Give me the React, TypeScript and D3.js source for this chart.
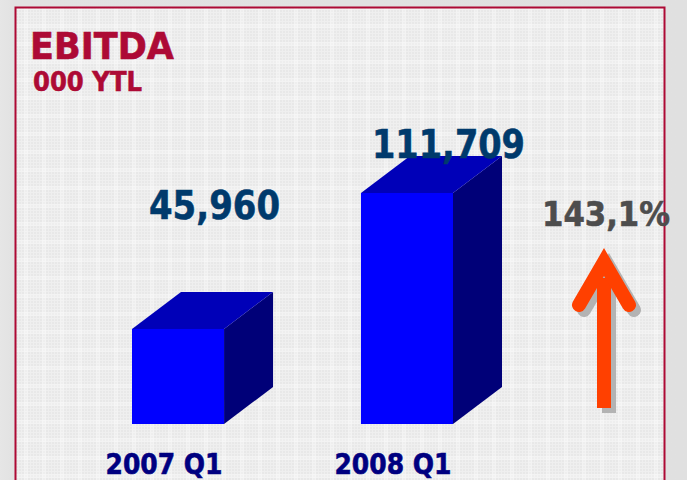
import React, { useEffect, useRef } from 'react';
import * as d3 from 'd3';

const categories = ['2007 Q1', '2008 Q1'];
const values = [45960, 111709];
const valueLabels = ['45,960', '111,709'];
const changeLabel = '143,1%';
const title = 'EBITDA';
const subtitle = '000 YTL';

const width = 687;
const height = 480;
const baseY = 424;
const depthX = 49;
const depthY = 37;
const font = 'Tahoma, "DejaVu Sans", Verdana, sans-serif';

export default function App() {
	const ref = useRef<SVGSVGElement | null>(null);

	useEffect(() => {
		const svg = d3.select(ref.current);
		svg.selectAll('*').remove();

		const defs = svg.append('defs');

		const bg = defs.append('linearGradient').attr('id', 'pageBg');
		bg.append('stop').attr('offset', '0').attr('stop-color', '#e6e6e6');
		bg.append('stop').attr('offset', '0.02').attr('stop-color', '#e2e2e2');
		bg.append('stop').attr('offset', '1').attr('stop-color', '#e0e0e0');

		// woven texture of the panel
		const weave = defs
			.append('pattern')
			.attr('id', 'weave')
			.attr('width', 18)
			.attr('height', 18)
			.attr('patternUnits', 'userSpaceOnUse');
		weave.append('rect').attr('width', 18).attr('height', 18).attr('fill', '#e8e8e8');
		d3.range(0, 18, 3).forEach(p => {
			weave.append('rect').attr('x', p).attr('width', 1).attr('height', 18).attr('fill', '#efefef');
			weave.append('rect').attr('y', p).attr('width', 18).attr('height', 1).attr('fill', '#efefef');
		});
		// wider pale bands
		weave.append('rect').attr('x', 6).attr('width', 4).attr('height', 18).attr('fill', '#fff').attr('opacity', 0.25);
		weave.append('rect').attr('y', 6).attr('width', 18).attr('height', 4).attr('fill', '#fff').attr('opacity', 0.25);

		svg.append('rect').attr('width', width).attr('height', height).attr('fill', 'url(#pageBg)');
		svg.append('rect')
			.attr('x', 15.5)
			.attr('y', 7.5)
			.attr('width', 649)
			.attr('height', 500)
			.attr('fill', 'url(#weave)')
			.attr('stroke', '#ad0a35')
			.attr('stroke-width', 2);

		const xScale = d3.scaleBand().domain(categories).range([132, 453]).paddingInner(0.598);
		const yScale = d3.scaleLinear().domain([0, 111709]).range([baseY, 193]);
		const bw = xScale.bandwidth();

		const bars = svg
			.selectAll('g.bar')
			.data(categories)
			.enter()
			.append('g')
			.attr('class', 'bar');

		const pts = (list: number[][]) => list.map(p => p.join(',')).join(' ');

		// right side
		bars.append('polygon')
			.attr('fill', '#000078')
			.attr('points', (d, i) => {
				const x = xScale(d)! + bw;
				const y = yScale(values[i]);
				return pts([
					[x, y],
					[x + depthX, y - depthY],
					[x + depthX, baseY - depthY],
					[x, baseY],
				]);
			});
		// top
		bars.append('polygon')
			.attr('fill', '#0000b8')
			.attr('points', (d, i) => {
				const x = xScale(d)!;
				const y = yScale(values[i]);
				return pts([
					[x, y],
					[x + depthX, y - depthY],
					[x + bw + depthX, y - depthY],
					[x + bw, y],
				]);
			});
		// front
		bars.append('rect')
			.attr('fill', '#0000ff')
			.attr('x', d => xScale(d)!)
			.attr('y', (d, i) => yScale(values[i]))
			.attr('width', bw)
			.attr('height', (d, i) => baseY - yScale(values[i]));

		const bold = (sel: any, color: string) =>
			sel
				.attr('font-family', font)
				.attr('font-weight', 700)
				.attr('fill', color)
				.attr('stroke', color)
				.attr('stroke-width', 0.6)
				.attr('lengthAdjust', 'spacingAndGlyphs');

		svg.append('text')
			.call(bold, '#ad0a35')
			.attr('x', 30)
			.attr('y', 59)
			.attr('font-size', 37)
			.attr('textLength', 144)
			.text(title);
		svg.append('text')
			.call(bold, '#ad0a35')
			.attr('x', 33)
			.attr('y', 91)
			.attr('font-size', 27)
			.attr('textLength', 109)
			.text(subtitle);

		const labelX = [149, 372];
		const labelY = [219, 158];
		const labelW = [131, 153];
		svg.selectAll('text.value')
			.data(valueLabels)
			.enter()
			.append('text')
			.attr('class', 'value')
			.call(bold, '#003a6c')
			.attr('x', (d, i) => labelX[i])
			.attr('y', (d, i) => labelY[i])
			.attr('font-size', 39)
			.attr('textLength', (d, i) => labelW[i])
			.text(d => d);

		svg.selectAll('text.cat')
			.data(categories)
			.enter()
			.append('text')
			.attr('class', 'cat')
			.call(bold, '#000080')
			.attr('x', d => xScale(d)! + bw / 2 - 72.5)
			.attr('y', 474)
			.attr('font-size', 28)
			.attr('textLength', 117)
			.text(d => d);

		svg.append('text')
			.call(bold, '#4d4d4d')
			.attr('x', 542)
			.attr('y', 226)
			.attr('font-size', 33)
			.attr('textLength', 128)
			.text(changeLabel);

		// arrow, shadow first
		const drawArrow = (dx: number, dy: number, color: string) => {
			const g = svg.append('g').attr('transform', `translate(${604 + dx},${408 + dy})`);
			g.append('line')
				.attr('y1', 0)
				.attr('y2', -130)
				.attr('stroke', color)
				.attr('stroke-width', 14);
			g.append('path')
				.attr('d', 'M-25,-103 L0,-146 L25,-103')
				.attr('fill', 'none')
				.attr('stroke', color)
				.attr('stroke-width', 14)
				.attr('stroke-linecap', 'round')
				.attr('stroke-linejoin', 'miter');
		};
		drawArrow(5, 5, '#b3b3b3');
		drawArrow(0, 0, '#ff4000');
	}, []);

	return <svg ref={ref} width={width} height={height} style={{ position: 'absolute', left: 0, top: 0 }} />;
}
